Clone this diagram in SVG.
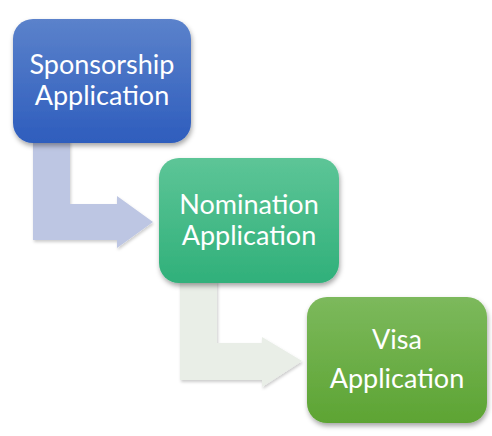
<svg xmlns="http://www.w3.org/2000/svg" width="492" height="436" viewBox="0 0 492 436">
<style>
.lbl{font-family:Lato,"Open Sans",sans-serif;font-size:27px;fill:#ffffff;text-anchor:middle}
</style>
<defs>
<linearGradient id="g1" x1="0" y1="0" x2="0" y2="1"><stop offset="0" stop-color="#5b82cb"/><stop offset="1" stop-color="#2e5dbd"/></linearGradient>
<linearGradient id="g2" x1="0" y1="0" x2="0" y2="1"><stop offset="0" stop-color="#5dc597"/><stop offset="1" stop-color="#30b07a"/></linearGradient>
<linearGradient id="g3" x1="0" y1="0" x2="0" y2="1"><stop offset="0" stop-color="#7cb95c"/><stop offset="1" stop-color="#5da433"/></linearGradient>
<filter id="sh" x="-10%" y="-10%" width="125%" height="130%"><feDropShadow dx="1" dy="3" stdDeviation="2.5" flood-color="#000" flood-opacity="0.35"/></filter>
<filter id="sh2" x="-10%" y="-10%" width="125%" height="130%"><feDropShadow dx="1" dy="2" stdDeviation="1.5" flood-color="#000" flood-opacity="0.2"/></filter>
</defs>
<g id="connectors">
<path d="M33,140 L70,140 L70,204 L117,204 L117,196 L153,222 L117,248 L117,240 L33,240 Z" fill="#bdc6e3" filter="url(#sh2)"/>
<path d="M180,280 L217,280 L217,343 L262,343 L262,337 L302,361 L262,387 L262,380 L180,380 Z" fill="#e9eee7" filter="url(#sh2)"/>
</g>
<g id="sponsorship">
<rect x="13" y="19" width="178" height="124" rx="20" fill="url(#g1)" filter="url(#sh)"/>
<text class="lbl" x="102" y="74">Sponsorship</text>
<text class="lbl" x="102" y="105">Application</text>
</g>
<g id="nomination">
<rect x="159" y="158" width="180" height="125" rx="20" fill="url(#g2)" filter="url(#sh)"/>
<text class="lbl" x="249" y="214">Nomination</text>
<text class="lbl" x="249" y="245">Application</text>
</g>
<g id="visa">
<rect x="307" y="297" width="180" height="126" rx="20" fill="url(#g3)" filter="url(#sh)"/>
<text class="lbl" x="397" y="349">Visa</text>
<text class="lbl" x="397" y="388">Application</text>
</g>
</svg>
